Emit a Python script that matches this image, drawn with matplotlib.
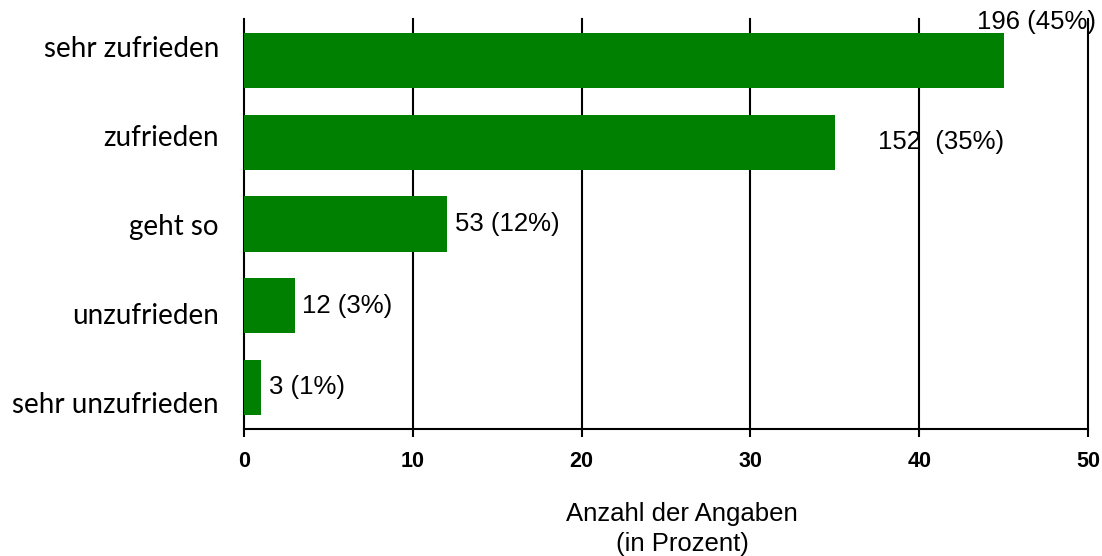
import matplotlib.pyplot as plt
import matplotlib.transforms as mtransforms
import numpy as np

categories = ['sehr zufrieden', 'zufrieden', 'geht so', 'unzufrieden', 'sehr unzufrieden']
percent = [45, 35, 12, 3, 1]
counts = [196, 152, 53, 12, 3]
value_labels = ['196 (45%)', '152  (35%)', '53 (12%)', '12 (3%)', '3 (1%)']
xticks = [0, 10, 20, 30, 40, 50]

fig = plt.figure(figsize=(11.02, 5.56), dpi=100)
ax = fig.add_axes([0.2214, 0.2284, 0.7659, 0.7374])

y = np.arange(len(categories))
ax.barh(y, percent, height=0.68, color='#008000', zorder=3)

ax.set_xlim(0, 50)
ax.set_ylim(len(categories) - 0.49, -0.51)
ax.set_xticks(xticks)
ax.set_xticklabels([str(t) for t in xticks], fontsize=15.5, fontweight='bold',
                   family='Liberation Sans')
ax.set_yticks(y)
ax.set_yticklabels(categories, fontsize=20, family='Lato')
ax.tick_params(axis='y', length=0, pad=18)
ax.tick_params(axis='x', direction='out', length=5.5, width=1.5, pad=10)

# category labels are spread a bit wider than the bars (shift in pixels)
shifts = [14, 7, 0, -8, -15]
for lab, s in zip(ax.get_yticklabels(), shifts):
    lab.set_transform(lab.get_transform() +
                      mtransforms.ScaledTranslation(0, s / 100, fig.dpi_scale_trans))

for x in xticks:
    ax.axvline(x, color='black', lw=1.5, zorder=2, clip_on=False)
for s in ['top', 'right', 'left']:
    ax.spines[s].set_visible(False)
ax.spines['bottom'].set_linewidth(1.5)

# value labels, offsets in points
offsets = [(-19, 28), (31, 0), (6, 0), (5, 0), (6, 0)]
for i, (v, lab) in enumerate(zip(percent, value_labels)):
    dx, dy = offsets[i]
    ax.annotate(lab, (v, i), xytext=(dx, dy), textcoords='offset points',
                ha='left', va='center', fontsize=18.5, family='Liberation Sans',
                annotation_clip=False, zorder=4)

ax.set_xlabel('Anzahl der Angaben\n(in Prozent)', fontsize=18.5,
              family='Liberation Sans', linespacing=1.35)
ax.xaxis.set_label_coords(0.519, -0.177)
ax.xaxis.label.set_va('top')

fig.savefig('out.png', dpi=100)
